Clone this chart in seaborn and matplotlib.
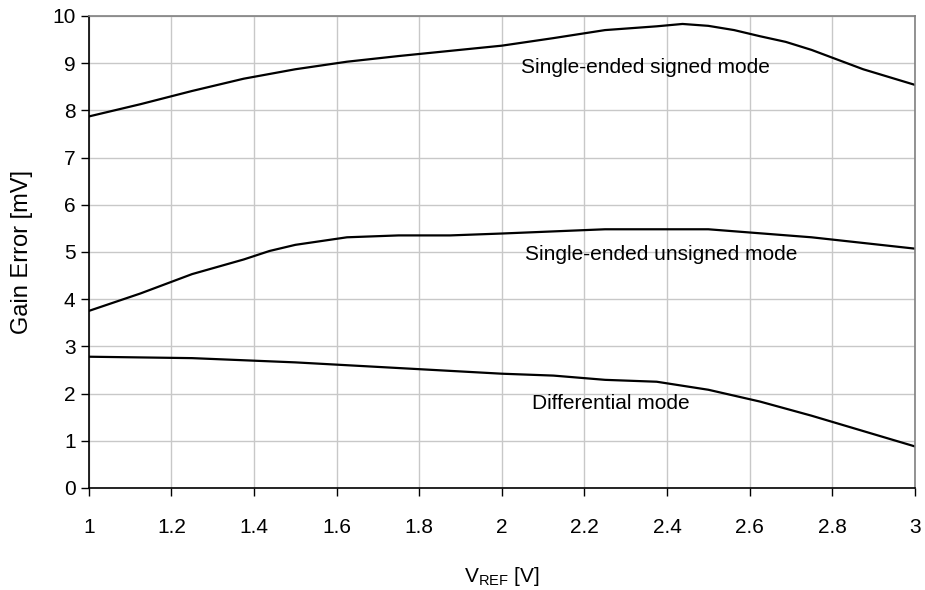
import pandas as pd
import numpy as np
import seaborn as sns
import matplotlib.pyplot as plt

# Data
vref_signed = [1.0, 1.125, 1.25, 1.375, 1.5, 1.625, 1.75, 1.875, 2.0, 2.125, 2.25,
               2.375, 2.4375, 2.5, 2.5625, 2.625, 2.6875, 2.75, 2.875, 3.0]
gain_signed = [7.87, 8.13, 8.41, 8.67, 8.87, 9.03, 9.15, 9.26, 9.37, 9.53, 9.70,
               9.78, 9.83, 9.79, 9.70, 9.57, 9.45, 9.28, 8.87, 8.54]

vref_unsigned = [1.0, 1.125, 1.25, 1.375, 1.4375, 1.5, 1.625, 1.75, 1.875, 2.0,
                 2.25, 2.5, 2.75, 3.0]
gain_unsigned = [3.75, 4.12, 4.53, 4.84, 5.02, 5.15, 5.31, 5.35, 5.35, 5.39,
                 5.48, 5.48, 5.31, 5.07]

vref_diff = [1.0, 1.25, 1.5, 1.625, 2.0, 2.125, 2.25, 2.375, 2.5, 2.625, 2.75, 3.0]
gain_diff = [2.78, 2.75, 2.66, 2.60, 2.42, 2.38, 2.29, 2.25, 2.08, 1.83, 1.53, 0.88]

labels = ["Single-ended signed mode", "Single-ended unsigned mode", "Differential mode"]
label_pos = [(2.347, 8.9), (2.385, 4.95), (2.265, 1.78)]

sns.set_style("white")
plt.rcParams['font.family'] = ['Liberation Sans', 'DejaVu Sans']
plt.rcParams['text.color'] = 'black'
plt.rcParams['axes.labelcolor'] = 'black'

fig = plt.figure(figsize=(9.25, 5.9), dpi=100)
ax = fig.add_axes([0.096, 0.173, 0.893, 0.8])

for x, y in [(vref_signed, gain_signed), (vref_unsigned, gain_unsigned), (vref_diff, gain_diff)]:
    sns.lineplot(x=x, y=y, ax=ax, color='black', linewidth=1.6)

for txt, (tx, ty) in zip(labels, label_pos):
    ax.text(tx, ty, txt, ha='center', va='center', fontsize=15, color='black')

ax.set_xlim(1, 3)
ax.set_ylim(0, 10)
ax.set_xticks(np.arange(1, 3.01, 0.2))
ax.set_xticklabels(['1', '1.2', '1.4', '1.6', '1.8', '2', '2.2', '2.4', '2.6', '2.8', '3'])
ax.set_yticks(range(0, 11))
ax.grid(True, color='#c8c8c8', linewidth=1)
ax.tick_params(axis='both', labelsize=15, length=6, width=1, direction='out',
               bottom=True, left=True, colors='black')
ax.tick_params(axis='x', pad=16)
for s in ['left', 'bottom']:
    ax.spines[s].set_color('black')
    ax.spines[s].set_linewidth(1.2)
for s in ['top', 'right']:
    ax.spines[s].set_color('#808080')
    ax.spines[s].set_linewidth(1.2)

ax.set_xlabel(r'V$_{\mathregular{REF}}$ [V]', fontsize=15, labelpad=20)
ax.set_ylabel('Gain Error [mV]', fontsize=17, labelpad=14)

plt.savefig('out.png', dpi=100)
